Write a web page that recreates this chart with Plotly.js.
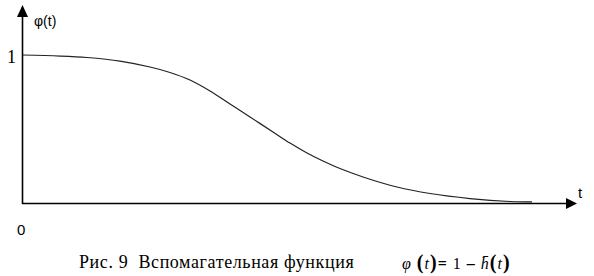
<!DOCTYPE html>
<html>
<head>
<meta charset="utf-8">
<script src="https://cdn.plot.ly/plotly-3.0.1.min.js"></script>
<style>
html,body{margin:0;padding:0;background:#fff;}
#chart{width:594px;height:276px;}
</style>
</head>
<body>
<div id="chart"></div>
<script>
// Data
const tValues = [0, 0.76, 1.30, 1.96, 2.56, 2.96, 3.36, 3.76, 4.16, 4.56, 5.02, 5.36, 5.70, 6.02, 6.36, 6.82, 7.50, 8.16, 8.96, 9.76, 10.2];
const phiValues = [1.000, 0.993, 0.983, 0.959, 0.919, 0.882, 0.831, 0.757, 0.669, 0.581, 0.480, 0.405, 0.338, 0.284, 0.233, 0.176, 0.108, 0.064, 0.030, 0.010, 0.007];
const yTickLabel = "1";
const xOriginLabel = "0";
const yAxisLabel = "φ(t)";
const xAxisLabel = "t";
const captionText = "Рис. 9  Вспомагательная функция";
const formulaText = "<span style='letter-spacing:1px'><i>φ</i> <span style='font-size:20px'><b>(</b></span><i>t</i><span style='font-size:20px'><b>)</b></span><b>=</b> 1 <b>–</b> <i>h̄</i><span style='font-size:20px'><b>(</b></span><i>t</i><span style='font-size:20px'><b>)</b></span></span>";

const L = 22, T = 0, W = 594, H = 276, B = 73, R = 10;
const plotW = W - L - R, plotH = H - T - B;
const xMax = plotW / 50, yMax = plotH / 148;
// pixel -> paper coordinates for decorations and labels
const qx = x => (x - L) / plotW;
const qy = y => (H - B - y) / plotH;
const P = (x, y) => qx(x).toFixed(5) + ',' + qy(y).toFixed(5);

const trace = {
  x: tValues, y: phiValues, type: 'scatter', mode: 'lines',
  line: {color: '#222', width: 1.2, shape: 'spline', smoothing: 1},
  hoverinfo: 'skip', cliponaxis: false
};

const shapes = [
  {type: 'line', xref: 'paper', yref: 'paper', x0: qx(22), y0: qy(203.5), x1: qx(568), y1: qy(203.5), line: {color: '#000', width: 1.6}},
  {type: 'line', xref: 'paper', yref: 'paper', x0: qx(22.5), y0: qy(204), x1: qx(22.5), y1: qy(14), line: {color: '#000', width: 1.6}},
  {type: 'path', xref: 'paper', yref: 'paper', path: 'M' + P(577, 203.5) + 'L' + P(566, 198) + 'L' + P(566, 209) + 'Z', fillcolor: '#000', line: {width: 0}},
  {type: 'path', xref: 'paper', yref: 'paper', path: 'M' + P(22.5, 5) + 'L' + P(17, 17) + 'L' + P(28, 17) + 'Z', fillcolor: '#000', line: {width: 0}}
];

const lab = (x, y, text, family, size, anchor) => ({
  x: qx(x), y: qy(y), xref: 'paper', yref: 'paper', text: text, showarrow: false,
  xanchor: anchor || 'center', yanchor: 'middle',
  font: {family: family, size: size, color: '#000'}
});
const SANS = "'Liberation Sans', Arial, sans-serif";
const SERIF = "'Liberation Serif', 'Times New Roman', serif";

const annotations = [
  lab(45, 21, yAxisLabel, SANS, 14),
  lab(11, 57, yTickLabel, SERIF, 18),
  lab(21, 229, xOriginLabel, SANS, 15),
  lab(580, 192, xAxisLabel, SANS, 15),
  lab(77, 262, "<span style='letter-spacing:0.6px'>" + captionText + "</span>", SERIF, 18, 'left'),
  lab(400, 262, formulaText, SERIF, 16, 'left')
];

const layout = {
  width: W, height: H,
  margin: {l: L, r: R, t: T, b: B, pad: 0},
  paper_bgcolor: '#fff', plot_bgcolor: '#fff',
  showlegend: false,
  xaxis: {range: [0, xMax], showgrid: false, zeroline: false, showline: false, showticklabels: false, ticks: ''},
  yaxis: {range: [0, yMax], showgrid: false, zeroline: false, showline: false, showticklabels: false, ticks: ''},
  shapes: shapes,
  annotations: annotations
};

Plotly.newPlot('chart', [trace], layout, {staticPlot: true, displayModeBar: false});
</script>
</body>
</html>
